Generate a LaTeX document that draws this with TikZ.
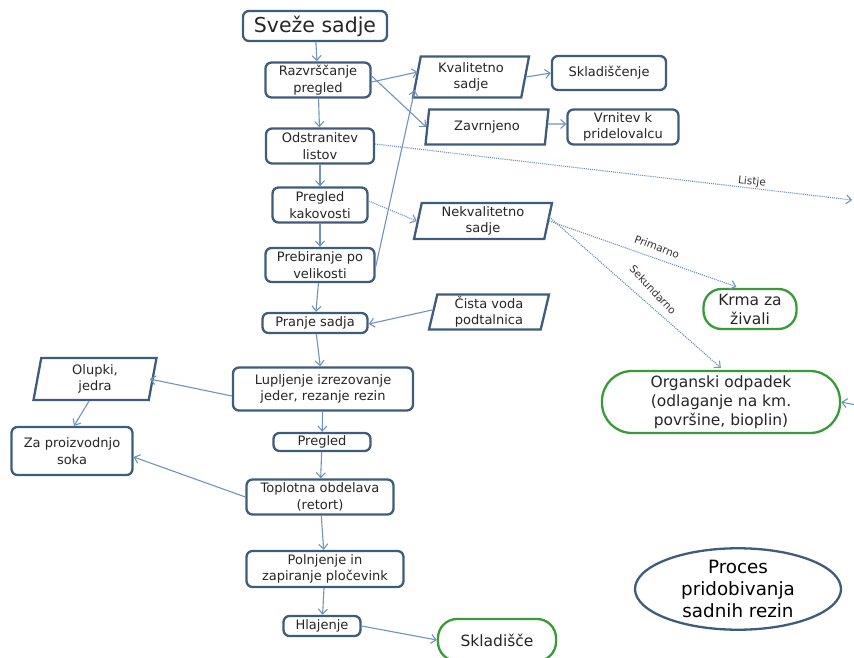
\documentclass[tikz,border=0pt]{standalone}
\usepackage{fontspec}
\setmainfont{DejaVu Sans}
\usetikzlibrary{arrows.meta,shapes.geometric,calc}
\definecolor{bd}{HTML}{3F5C7A}
\definecolor{ar}{HTML}{6F93BA}
\definecolor{gr}{HTML}{3A9A3A}
\tikzset{
  base/.style={line width=2.3pt, fill=white, align=center, inner sep=1pt, font=\fontsize{13}{16.5}\selectfont, text=black!85},
  box/.style={base, draw=bd, rounded corners=6pt},
  gbox/.style={base, draw=gr, font=\fontsize{15.5}{19}\selectfont},
  par/.style={base, draw=bd, trapezium, trapezium left angle=76, trapezium right angle=104, trapezium stretches body},
  arr/.style={draw=ar, line width=1.1pt, -{Straight Barb[length=5pt,width=9pt]}},
  dotarr/.style={arr, densely dotted},
  lbl/.style={font=\fontsize{10.5}{12}\selectfont, text=black!80, inner sep=0pt}
}
\begin{document}
\begin{tikzpicture}[x=1pt,y=-1pt]
\useasboundingbox (0,0) rectangle (854,658);
% main column
\node[box, minimum width=144pt, minimum height=30pt, font=\fontsize{20.5}{24}\selectfont] (s) at (315,26) {Sveže sadje};
\node[box, minimum width=105pt, minimum height=35pt] (r) at (318,80) {Razvrščanje\\pregled};
\node[box, minimum width=108pt, minimum height=35pt] (o) at (320,146) {Odstranitev\\listov};
\node[box, minimum width=95pt, minimum height=35pt] (pk) at (320,205) {Pregled\\kakovosti};
\node[box, minimum width=109pt, minimum height=34pt] (pb) at (320,265) {Prebiranje po\\velikosti};
\node[box, minimum width=105pt, minimum height=20pt] (pr) at (315,323) {Pranje sadja};
\node[box, minimum width=180pt, minimum height=43pt] (l) at (323,389) {Lupljenje izrezovanje\\jeder, rezanje rezin};
\node[box, minimum width=97pt, minimum height=18pt] (pg) at (322,442) {Pregled};
\node[box, minimum width=147pt, minimum height=35pt] (t) at (320,497) {Toplotna obdelava\\(retort)};
\node[box, minimum width=157pt, minimum height=36pt] (pol) at (325,569) {Polnjenje in\\zapiranje pločevink};
\node[box, minimum width=77pt, minimum height=20pt] (h) at (322,626) {Hlajenje};
\node[gbox, rounded corners=19pt, minimum width=118pt, minimum height=42pt] (sk) at (497,640) {Skladišče};
% right side
\node[par, minimum width=116pt, minimum height=41pt] (kv) at (471,77) {Kvalitetno\\sadje};
\node[box, minimum width=114pt, minimum height=34pt] (skl) at (609,73) {Skladiščenje};
\node[par, minimum width=123pt, minimum height=35pt] (z) at (487,127) {Zavrnjeno};
\node[box, minimum width=111pt, minimum height=35pt] (v) at (623,127) {Vrnitev k\\pridelovalcu};
\node[par, minimum width=138pt, minimum height=36pt] (nk) at (483,221) {Nekvalitetno\\sadje};
\node[par, minimum width=120pt, minimum height=35pt] (cv) at (489,312) {Čista voda\\podtalnica};
\node[gbox, rounded corners=18pt, minimum width=93pt, minimum height=40pt] (kr) at (750,309) {Krma za\\živali};
\node[gbox, rounded corners=30pt, minimum width=238pt, minimum height=62pt] (org) at (721,402) {Organski odpadek\\(odlaganje na km.\\površine, bioplin)};
% left side
\node[par, minimum width=123pt, minimum height=42pt] (ol) at (95,379) {Olupki,\\jedra};
\node[box, minimum width=121pt, minimum height=48pt] (za) at (72,451) {Za proizvodnjo\\soka};
% title
\node[ellipse, draw=bd, line width=2.3pt, align=center, minimum width=206pt, minimum height=80pt, inner sep=0pt, font=\fontsize{18.3}{22}\selectfont] (ti) at (738,589) {Proces\\pridobivanja\\sadnih rezin};
% off-canvas ends
\coordinate (le) at (852,200);
\coordinate (re) at (856,405);
% vertical flow
\draw[arr] (s) -- (r);
\draw[arr] (r) -- (o);
\draw[arr] (o) -- (pk);
\draw[arr] (pk) -- (pb);
\draw[arr] (pb) -- (pr);
\draw[arr] (pr) -- (l);
\draw[arr] (l) -- (pg);
\draw[arr] (pg) -- (t);
\draw[arr] (t) -- (pol);
\draw[arr] (pol) -- (h);
\draw[arr] (h.east) -- (sk.west);
% branches
\draw[arr] ([yshift=-2pt]r.east) -- ([xshift=2pt,yshift=5pt]kv.west);
\draw[arr] ([yshift=4pt]r.east) -- (z.west);
\draw[arr] ([yshift=-2pt]pb.east) -- ($(kv.west)+(-1,13)$);
\draw[arr] (kv.east) -- (skl.west);
\draw[arr] ([yshift=3pt]z.east) -- ([yshift=3pt]v.west);
\draw[dotarr] ([yshift=2pt]o.east) -- (le);
\node[lbl, rotate=-6] (lt) at (752,182) {Listje};
\draw[dotarr] ([yshift=4pt]pk.east) -- (nk.west);
\draw[dotarr] (nk.east) -- ($(kr.north west)+(34,-1)$);
\node[lbl, rotate=-21] (pt) at (657,247) {Primarno};
\draw[dotarr] ([yshift=4pt]nk.east) -- ($(org.north west)+(120,-2)$);
\node[lbl, rotate=-47] (st) at (653,290) {Sekundarno};
\draw[arr] (re) -- (org.east);
\draw[arr] ([yshift=2pt]cv.west) -- ([yshift=-1pt]pr.east);
\draw[arr] ([yshift=-7pt]l.west) -- ([xshift=-4pt]ol.east);
\draw[arr] ([xshift=-6pt]ol.south) -- ($(za.north)+(2,0)$);
\draw[arr] (t.west) -- ([yshift=-6pt]za.east);
\end{tikzpicture}
\end{document}
